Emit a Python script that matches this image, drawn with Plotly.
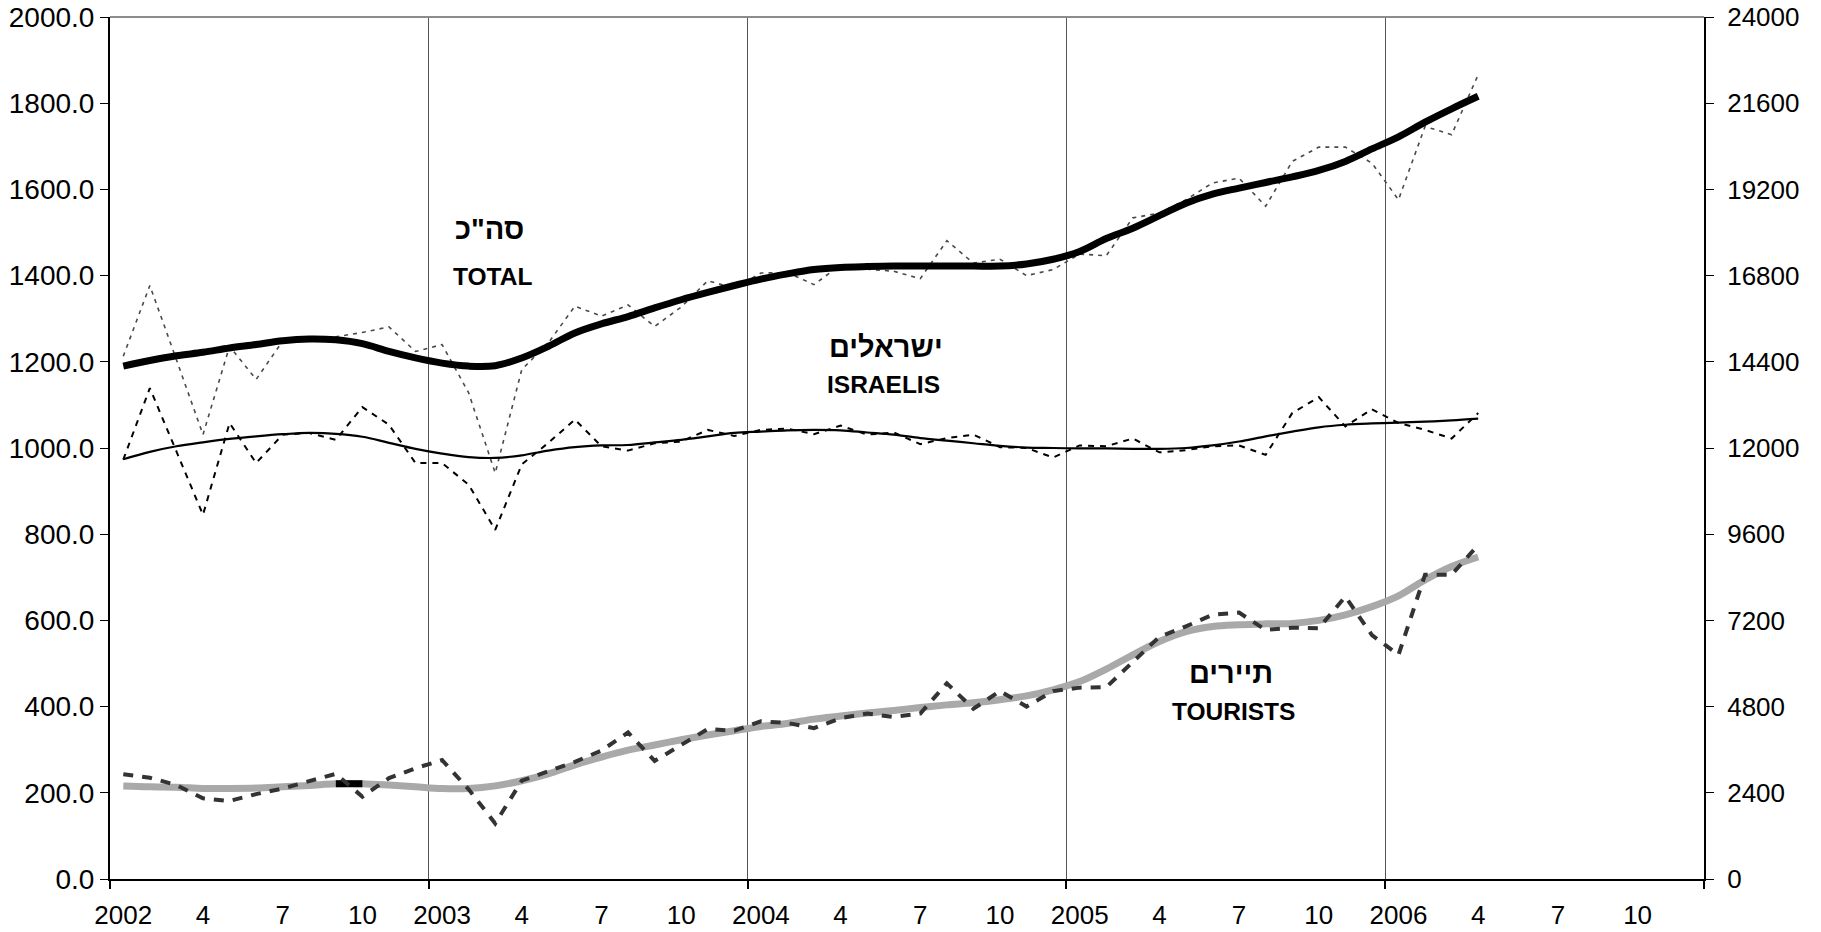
import plotly.graph_objects as go

# ---------------- data (monthly, Jan 2002 .. Apr 2006) ----------------
years = ["2002", "2003", "2004", "2005", "2006"]
quarter_months = ["4", "7", "10"]
n_categories = 60  # Jan 2002 .. Dec 2006

total_original = [1213, 1377, 1205, 1031, 1236, 1159, 1248, 1255, 1258, 1268, 1281, 1224,
                  1240, 1128, 942, 1182, 1244, 1329, 1306, 1332, 1282, 1327, 1388, 1371,
                  1406, 1407, 1379, 1425, 1415, 1410, 1393, 1481, 1429, 1438, 1400, 1414,
                  1450, 1446, 1534, 1545, 1576, 1615, 1626, 1561, 1665, 1698, 1698, 1661,
                  1576, 1746, 1727, 1866]
total_trend = [1190, 1203, 1214, 1222, 1232, 1240, 1249, 1253, 1251, 1242, 1224, 1209,
               1197, 1190, 1191, 1209, 1236, 1267, 1288, 1305, 1325, 1344, 1361, 1377,
               1392, 1404, 1414, 1419, 1421, 1422, 1422, 1422, 1422, 1422, 1427, 1438,
               1456, 1486, 1510, 1539, 1568, 1589, 1603, 1616, 1629, 1644, 1665, 1694,
               1722, 1756, 1787, 1816]
israelis_original = [973, 1139, 992, 845, 1058, 965, 1031, 1035, 1019, 1095, 1054, 965,
                     965, 915, 810, 962, 1012, 1066, 1004, 994, 1011, 1015, 1042, 1028,
                     1042, 1045, 1032, 1052, 1031, 1036, 1009, 1023, 1031, 1002, 1000, 978,
                     1006, 1004, 1022, 990, 995, 1004, 1006, 984, 1081, 1118, 1050, 1090,
                     1058, 1042, 1022, 1081]
israelis_trend = [974, 991, 1004, 1013, 1021, 1027, 1032, 1035, 1033, 1026, 1012, 998,
                  987, 979, 977, 983, 994, 1002, 1006, 1007, 1013, 1019, 1027, 1035,
                  1038, 1041, 1042, 1041, 1036, 1031, 1023, 1017, 1011, 1005, 1001, 1000,
                  999, 999, 998, 998, 1000, 1006, 1015, 1027, 1038, 1048, 1054, 1057,
                  1059, 1061, 1064, 1068]
tourists_original = [243, 235, 218, 187, 181, 197, 210, 226, 244, 191, 234, 257,
                     276, 208, 129, 228, 249, 272, 298, 340, 274, 310, 348, 344,
                     366, 362, 350, 373, 384, 376, 384, 454, 395, 436, 400, 436,
                     444, 445, 505, 562, 586, 613, 618, 578, 583, 582, 655, 566,
                     520, 706, 706, 775]
tourists_trend = [216, 214, 213, 210, 210, 211, 214, 217, 221, 221, 218, 214,
                  210, 210, 216, 228, 244, 265, 283, 299, 311, 323, 334, 344,
                  354, 361, 371, 378, 385, 391, 398, 404, 409, 416, 425, 439,
                  458, 487, 520, 551, 574, 586, 590, 592, 593, 600, 613, 632,
                  657, 694, 725, 747]

months = list(range(len(total_trend)))

# tick labels: year at January, then 4, 7, 10
tick_vals, tick_text = [], []
for k, yr in enumerate(years):
    tick_vals.append(12 * k)
    tick_text.append(yr)
    for j, m in enumerate(quarter_months):
        tick_vals.append(12 * k + 3 * (j + 1))
        tick_text.append(m)
year_bounds = [12 * k - 0.5 for k in range(len(years) + 1)]

FONT = "Liberation Sans, Arial, sans-serif"

fig = go.Figure()


def add_line(y, color, width, dash=None, shape="linear", x=None):
    fig.add_trace(go.Scatter(
        x=months if x is None else x, y=y, mode="lines",
        line=dict(color=color, width=width, dash=dash, shape=shape,
                  smoothing=1.0 if shape == "spline" else None),
        hoverinfo="skip", showlegend=False))


# originals (dashed) and trends
add_line(total_original, "#4a4a4a", 1.6, dash="4px,5px")
add_line(israelis_original, "#000000", 2.0, dash="6px,6px")
add_line(tourists_trend, "#a9a9a9", 7, shape="spline")
add_line(tourists_trend[8:10], "#000000", 7, x=months[8:10])
add_line(tourists_original, "#333333", 4, dash="10px,9px")
add_line(israelis_trend, "#000000", 2.2, shape="spline")
add_line(total_trend, "#000000", 7, shape="spline")

# invisible trace to register the secondary axes
fig.add_trace(go.Scatter(x=[None], y=[None], xaxis="x2", yaxis="y2",
                         mode="lines", showlegend=False, hoverinfo="skip"))

# text labels
labels = [
    ("סה\"כ", 13.8, 1509, 29),
    ("TOTAL", 13.9, 1397, 24.5),
    ("ישראלים", 28.7, 1235, 29),
    ("ISRAELIS", 28.6, 1147, 24.5),
    ("תיירים", 41.7, 478, 29),
    ("TOURISTS", 41.8, 388, 24.5),
]
for txt, xx, yy, fs in labels:
    fig.add_annotation(x=xx, y=yy, xref="x", yref="y", text="<b>%s</b>" % txt,
                       showarrow=False, font=dict(family=FONT, size=fs, color="black"))

# top border of the plot area
fig.add_shape(type="line", xref="paper", yref="paper", x0=0, x1=1, y0=1, y1=1,
              line=dict(color="#8c8c8c", width=2))

axis_font = dict(family=FONT, size=26, color="black")
fig.update_layout(
    width=1821, height=932,
    margin=dict(l=110, r=117, t=17, b=53),
    paper_bgcolor="white", plot_bgcolor="white",
    showlegend=False,
    font=dict(family=FONT, color="black"),
    xaxis=dict(range=[-0.5, n_categories - 0.5], tickvals=tick_vals, ticktext=tick_text,
               ticks="", showgrid=False, zeroline=False, showline=True,
               linecolor="black", linewidth=2, tickfont=axis_font,
               ticklabelstandoff=12, automargin=False),
    xaxis2=dict(range=[-0.5, n_categories - 0.5], overlaying="x", anchor="y",
                side="bottom", tickvals=year_bounds, ticks="outside", ticklen=9,
                tickcolor="black", tickwidth=1.5, showticklabels=False,
                showgrid=True, gridcolor="#555555", gridwidth=1, zeroline=False,
                showline=False, automargin=False),
    yaxis=dict(range=[0, 2000], tickvals=list(range(0, 2001, 200)), tickformat=".1f",
               ticks="outside", ticklen=8, tickcolor="black", showgrid=False,
               zeroline=False, showline=True, linecolor="black", linewidth=2,
               tickfont=dict(family=FONT, size=28, color="black"), automargin=False),
    yaxis2=dict(range=[0, 24000], tickvals=list(range(0, 24001, 2400)), tickformat="d",
                overlaying="y", side="right", anchor="x",
                ticks="outside", ticklen=8, tickcolor="black", showgrid=False,
                zeroline=False, showline=True, linecolor="black", linewidth=2,
                tickfont=axis_font, ticklabelstandoff=8, automargin=False),
)

# remove the browser's default page margin so the figure fills the window exactly
fig.write_html("out.html",
               config={"displayModeBar": False},
               post_script="document.body.style.margin='0px';"
                           "document.body.style.overflow='hidden';")
